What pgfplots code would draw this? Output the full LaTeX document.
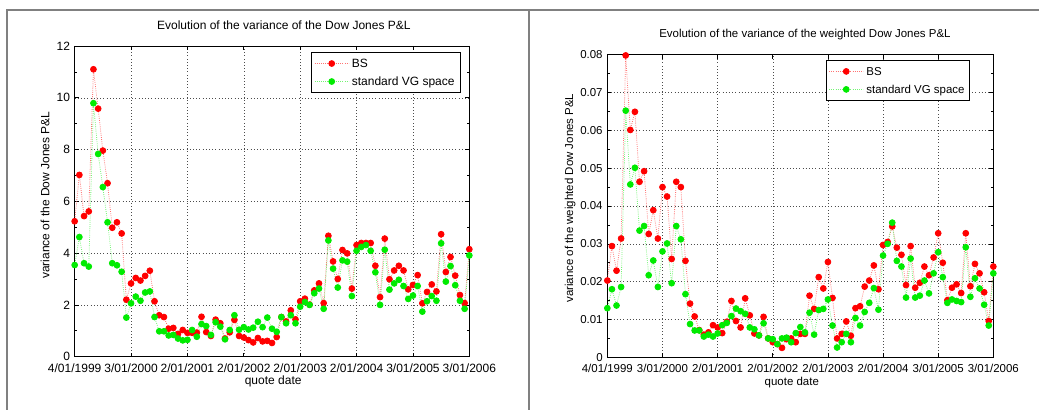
\documentclass[border=0pt]{standalone}
\usepackage{pgfplots}
\pgfplotsset{compat=1.18}
\usepackage{fontspec}
\setmainfont{Liberation Sans}
\definecolor{vgreen}{RGB}{0,235,0}
\definecolor{framegray}{RGB}{128,128,128}
\pgfplotsset{
  matlab/.style={
    scale only axis, clip=false, anchor=south west,
    xmin=0, xmax=84, xtick={0,12,24,36,48,60,72,84},
    xticklabels={4/01/1999,3/01/2000,2/01/2001,2/01/2002,2/01/2003,2/01/2004,3/01/2005,3/01/2006},
    tick align=inside, tick pos=both, major tick length=3pt, minor tick length=1.8pt,
    minor y tick num=1,
    grid=major, major grid style={dotted, black!70, line width=0.4pt},
    axis line style={line width=0.7pt},
    every tick/.style={black, line width=0.5pt},
    /pgf/number format/assume math mode=true,
    xticklabel style={yshift=-1.5pt},
    legend cell align=left,
    legend image code/.code={\draw[mark repeat=2,mark phase=2] plot coordinates {(0cm,0cm) (0.45cm,0cm) (0.9cm,0cm)};},
  },
  bsplot/.style={color=red!55, densely dotted, line width=0.6pt, mark=*, mark size=2.2pt, mark options={solid, fill=red, draw=red}},
  vgplot/.style={color=vgreen!55, densely dotted, line width=0.6pt, mark=*, mark size=2.2pt, mark options={solid, fill=vgreen, draw=vgreen}},
}
\begin{document}
\begin{tikzpicture}
\path[use as bounding box] (0,0) rectangle (779.25pt,307.5pt);
\begin{axis}[matlab,
  at={(56.0pt,40.0pt)}, width=296pt, height=233pt,
  ymin=0, ymax=12, ytick={0,2,4,6,8,10,12},
  font=\fontsize{9}{10.8}\selectfont,
  title={Evolution of the variance of the Dow Jones P\&L},
  title style={at={(axis description cs:0.53,1)}, anchor=base, yshift=6.7pt},
  xlabel={quote date},
  xlabel style={at={(axis description cs:0.503,0)}, anchor=base, yshift=-21.1pt},
  ylabel={variance of the Dow Jones P\&L},
  ylabel style={at={(axis description cs:-0.064,0.52)}, anchor=base},
  legend style={at={(1,1)}, anchor=north east, xshift=-6.75pt, yshift=-4.6pt, draw=black, line width=0.6pt, font=\fontsize{9}{10.8}\selectfont, row sep=1pt, inner sep=2pt, nodes={inner sep=2pt, text height=7pt, text depth=1.5pt}},
]
\addplot[bsplot] coordinates {
(0,5.23)(1,7.02)(2,5.43)(3,5.61)(4,11.10)(5,9.58)(6,7.96)(7,6.70)(8,4.98)(9,5.19)
(10,4.76)(11,2.20)(12,2.83)(13,3.04)(14,2.94)(15,3.12)(16,3.32)(17,2.14)(18,1.60)(19,1.53)
(20,1.08)(21,1.11)(22,0.88)(23,1.03)(24,0.92)(25,0.92)(26,0.93)(27,1.54)(28,0.95)(29,0.80)
(30,1.43)(31,1.29)(32,0.70)(33,0.94)(34,1.42)(35,0.80)(36,0.74)(37,0.64)(38,0.55)(39,0.72)
(40,0.59)(41,0.61)(42,0.53)(43,0.76)(44,1.53)(45,1.36)(46,1.79)(47,1.44)(48,2.14)(49,2.24)
(50,2.01)(51,2.56)(52,2.83)(53,2.07)(54,4.67)(55,3.68)(56,3.00)(57,4.12)(58,3.99)(59,2.63)
(60,4.31)(61,4.39)(62,4.39)(63,4.39)(64,3.51)(65,2.30)(66,4.56)(67,2.99)(68,3.33)(69,3.51)
(70,3.33)(71,2.60)(72,2.77)(73,3.15)(74,2.06)(75,2.50)(76,2.79)(77,2.52)(78,4.73)(79,3.27)
(80,3.85)(81,3.13)(82,2.38)(83,2.07)(84,4.15)};
\addlegendentry{BS}
\addplot[vgplot] coordinates {
(0,3.54)(1,4.62)(2,3.61)(3,3.48)(4,9.79)(5,7.83)(6,6.55)(7,5.19)(8,3.61)(9,3.53)
(10,3.28)(11,1.51)(12,2.06)(13,2.32)(14,2.16)(15,2.48)(16,2.52)(17,1.53)(18,0.98)(19,0.98)
(20,0.82)(21,0.84)(22,0.70)(23,0.63)(24,0.65)(25,1.03)(26,0.77)(27,1.26)(28,1.18)(29,0.84)
(30,1.33)(31,1.16)(32,0.67)(33,1.03)(34,1.60)(35,1.04)(36,1.14)(37,1.05)(38,1.12)(39,1.35)
(40,1.14)(41,1.51)(42,1.08)(43,0.96)(44,1.53)(45,1.29)(46,1.60)(47,1.29)(48,1.93)(49,2.11)
(50,2.00)(51,2.45)(52,2.63)(53,1.85)(54,4.49)(55,3.40)(56,2.67)(57,3.72)(58,3.67)(59,2.34)
(60,4.09)(61,4.24)(62,4.31)(63,4.09)(64,3.26)(65,2.00)(66,4.13)(67,2.59)(68,2.83)(69,2.97)
(70,2.73)(71,2.23)(72,2.36)(73,2.73)(74,1.74)(75,2.14)(76,2.34)(77,2.16)(78,4.38)(79,2.90)
(80,3.50)(81,2.76)(82,2.16)(83,1.85)(84,3.91)};
\addlegendentry{standard VG space}
\end{axis}
\begin{axis}[matlab,
  at={(455.5pt,39.5pt)}, width=289.5pt, height=227pt,
  ymin=0, ymax=0.08, ytick={0,0.01,0.02,0.03,0.04,0.05,0.06,0.07,0.08},
  scaled y ticks=false,
  yticklabel style={/pgf/number format/fixed, /pgf/number format/precision=2},
  font=\fontsize{8.6}{10.3}\selectfont,
  title={Evolution of the variance of the weighted Dow Jones P\&L},
  title style={at={(axis description cs:0.512,1)}, anchor=base, yshift=6.9pt},
  xlabel={quote date},
  xlabel style={at={(axis description cs:0.478,0)}, anchor=base, yshift=-21.1pt},
  ylabel={variance of the weighted Dow Jones P\&L},
  ylabel style={at={(axis description cs:-0.0884,0.526)}, anchor=base},
  legend style={at={(1,1)}, anchor=north east, xshift=-17.3pt, yshift=-4pt, draw=black, line width=0.6pt, font=\fontsize{8.6}{10.3}\selectfont, row sep=1pt, inner sep=2pt, nodes={inner sep=2pt, text height=7pt, text depth=1.5pt}},
]
\addplot[bsplot] coordinates {
(0,0.0203)(1,0.0294)(2,0.0229)(3,0.0314)(4,0.0798)(5,0.0601)(6,0.0649)(7,0.0464)(8,0.0492)(9,0.0326)
(10,0.0389)(11,0.0314)(12,0.0450)(13,0.0425)(14,0.0260)(15,0.0464)(16,0.0450)(17,0.0255)(18,0.0142)(19,0.0108)
(20,0.0072)(21,0.0060)(22,0.0066)(23,0.0085)(24,0.0079)(25,0.0064)(26,0.0094)(27,0.0149)(28,0.0096)(29,0.0079)
(30,0.0156)(31,0.0111)(32,0.0063)(33,0.0058)(34,0.0107)(35,0.0050)(36,0.0040)(37,0.0035)(38,0.0025)(39,0.0048)
(40,0.0050)(41,0.0040)(42,0.0062)(43,0.0062)(44,0.0163)(45,0.0128)(46,0.0212)(47,0.0182)(48,0.0252)(49,0.0157)
(50,0.0050)(51,0.0062)(52,0.0095)(53,0.0057)(54,0.0130)(55,0.0135)(56,0.0187)(57,0.0203)(58,0.0243)(59,0.0180)
(60,0.0297)(61,0.0305)(62,0.0346)(63,0.0290)(64,0.0271)(65,0.0191)(66,0.0294)(67,0.0184)(68,0.0197)(69,0.0240)
(70,0.0217)(71,0.0264)(72,0.0328)(73,0.0250)(74,0.0151)(75,0.0184)(76,0.0193)(77,0.0170)(78,0.0328)(79,0.0188)
(80,0.0247)(81,0.0222)(82,0.0172)(83,0.0096)(84,0.0240)};
\addlegendentry{BS}
\addplot[vgplot] coordinates {
(0,0.0130)(1,0.0180)(2,0.0137)(3,0.0186)(4,0.0652)(5,0.0457)(6,0.0501)(7,0.0335)(8,0.0347)(9,0.0217)
(10,0.0256)(11,0.0186)(12,0.0280)(13,0.0301)(14,0.0196)(15,0.0347)(16,0.0312)(17,0.0167)(18,0.0088)(19,0.0071)
(20,0.0071)(21,0.0055)(22,0.0060)(23,0.0055)(24,0.0063)(25,0.0085)(26,0.0091)(27,0.0109)(28,0.0129)(29,0.0122)
(30,0.0115)(31,0.0079)(32,0.0074)(33,0.0058)(34,0.0090)(35,0.0050)(36,0.0048)(37,0.0035)(38,0.0050)(39,0.0052)
(40,0.0040)(41,0.0064)(42,0.0080)(43,0.0066)(44,0.0118)(45,0.0060)(46,0.0125)(47,0.0128)(48,0.0153)(49,0.0084)
(50,0.0026)(51,0.0040)(52,0.0062)(53,0.0040)(54,0.0104)(55,0.0084)(56,0.0120)(57,0.0144)(58,0.0183)(59,0.0126)
(60,0.0269)(61,0.0300)(62,0.0356)(63,0.0255)(64,0.0240)(65,0.0158)(66,0.0261)(67,0.0158)(68,0.0163)(69,0.0203)
(70,0.0169)(71,0.0222)(72,0.0278)(73,0.0212)(74,0.0144)(75,0.0153)(76,0.0149)(77,0.0146)(78,0.0291)(79,0.0160)
(80,0.0209)(81,0.0182)(82,0.0139)(83,0.0084)(84,0.0222)};
\addlegendentry{standard VG space}
\end{axis}
\draw[framegray, line width=1.1pt] (5.25pt,0) -- (5.25pt,300pt) -- (779.25pt,300pt);
\draw[framegray, line width=1.1pt] (396.75pt,0) -- (396.75pt,300pt);
\end{tikzpicture}
\end{document}
